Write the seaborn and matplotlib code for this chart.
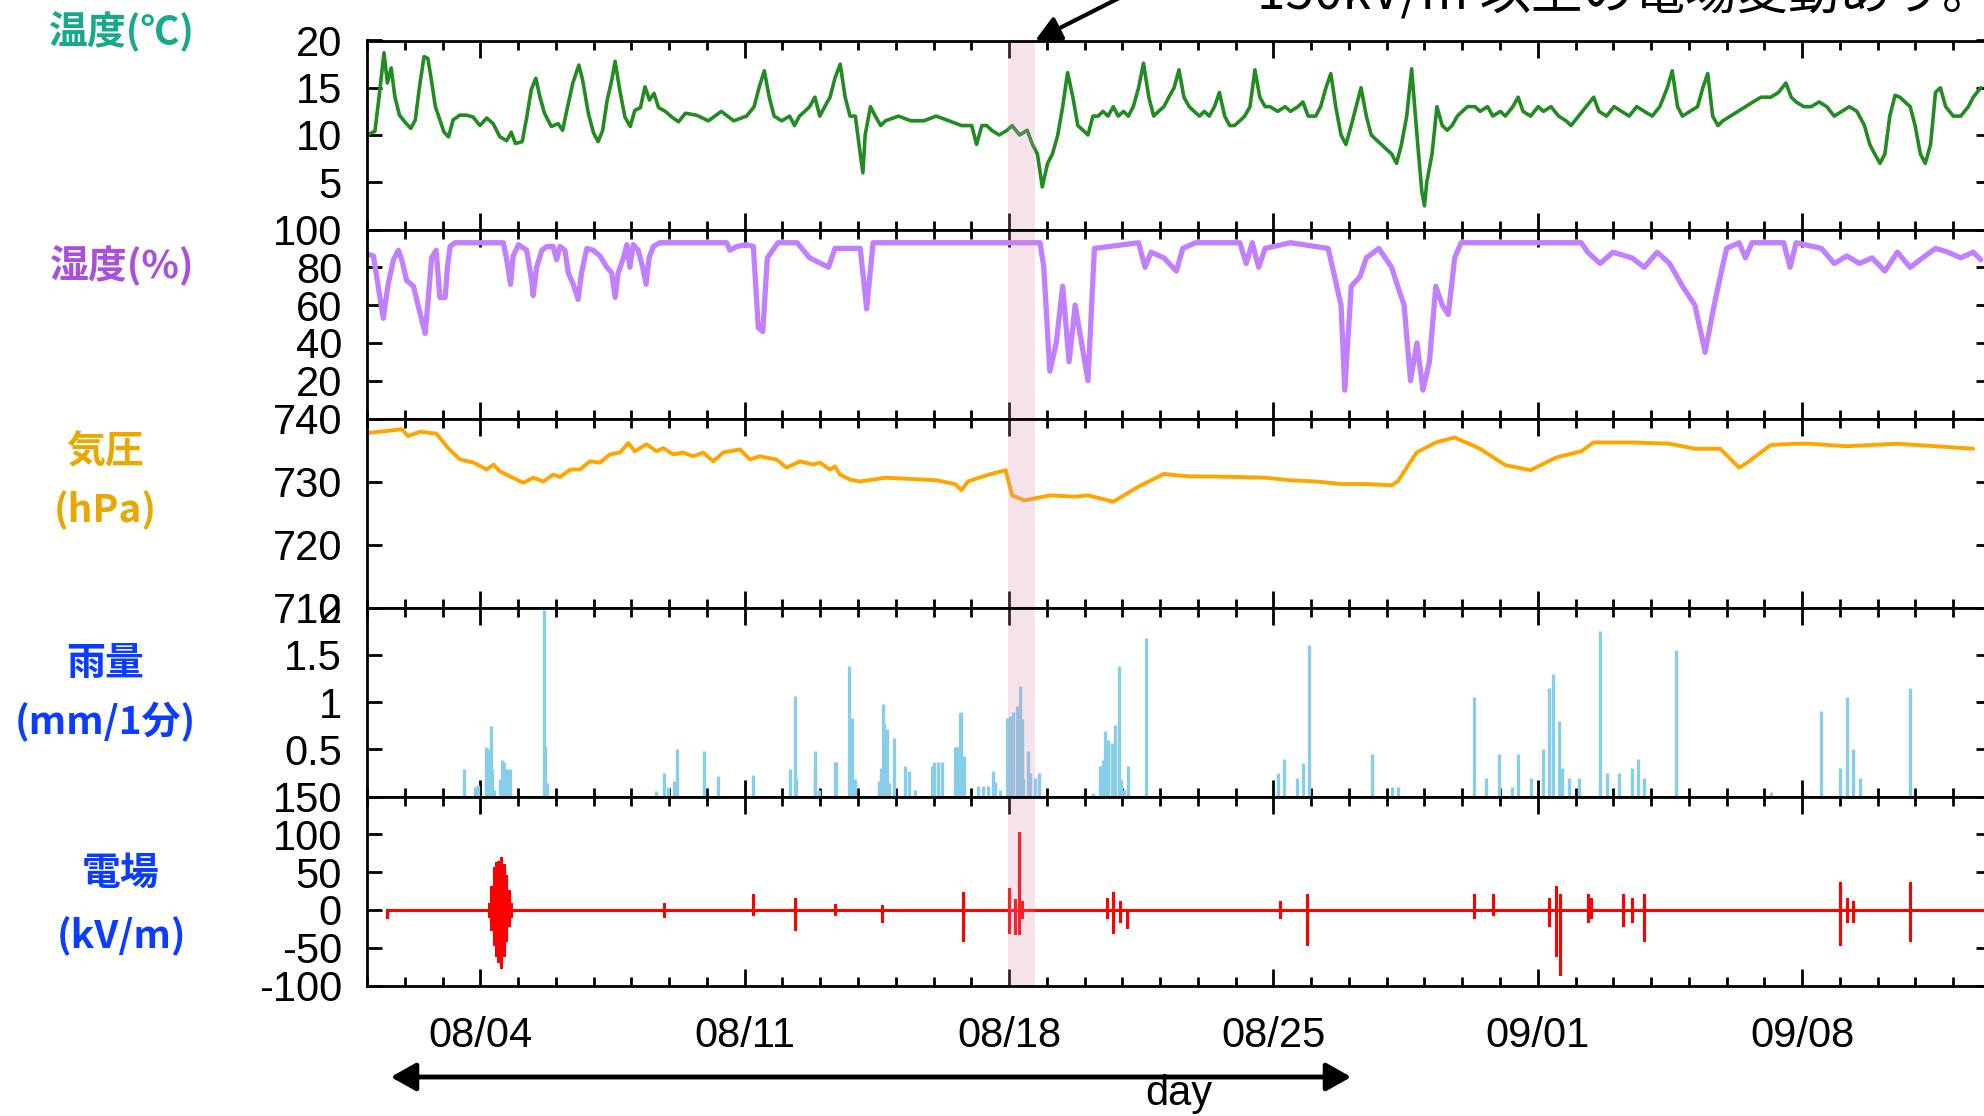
import numpy as np
import pandas as pd
import matplotlib
matplotlib.use("Agg")
import matplotlib.pyplot as plt
import matplotlib.dates as mdates
from matplotlib.ticker import FixedLocator
from matplotlib.patches import FancyArrowPatch
import seaborn as sns

# ---------------- data (days counted from 08/01 00:00) ----------------
START = pd.Timestamp("2019-08-01 00:00")
x_span_days = 43.0

tick_days = [3, 10, 17, 24, 31, 38]
tick_labels = ["08/04", "08/11", "08/18", "08/25", "09/01", "09/08"]

band_start, band_end = 16.97, 17.69

temp_days = [0.00, 0.21, 0.31, 0.45, 0.54, 0.64, 0.74, 0.86, 1.04, 1.16, 1.28, 1.39, 1.51, 1.61,
             1.69, 1.81, 1.93, 2.04, 2.16, 2.28, 2.46, 2.63, 2.81, 2.99, 3.17, 3.34, 3.52, 3.70,
             3.82, 3.93, 4.11, 4.23, 4.35, 4.47, 4.58, 4.70, 4.88, 5.06, 5.18, 5.29, 5.45, 5.61,
             5.71, 5.86, 6.00, 6.12, 6.24, 6.36, 6.48, 6.57, 6.69, 6.83, 6.97, 7.09, 7.24, 7.36,
             7.48, 7.60, 7.72, 7.90, 8.07, 8.25, 8.43, 8.72, 9.04, 9.38, 9.71, 10.05, 10.25,
             10.38, 10.52, 10.65, 10.78, 10.98, 11.19, 11.32, 11.45, 11.59, 11.72, 11.86, 11.99,
             12.12, 12.26, 12.39, 12.53, 12.66, 12.79, 12.93, 13.06, 13.13, 13.19, 13.33, 13.46,
             13.60, 13.73, 14.07, 14.40, 14.74, 15.07, 15.41, 15.74, 16.01, 16.14, 16.28, 16.41,
             16.54, 16.74, 16.95, 17.08, 17.28, 17.48, 17.62, 17.75, 17.88, 18.02, 18.15, 18.29,
             18.42, 18.55, 18.69, 18.82, 18.96, 19.09, 19.22, 19.36, 19.49, 19.62, 19.76, 19.89,
             20.03, 20.16, 20.29, 20.43, 20.56, 20.70, 20.83, 20.96, 21.10, 21.23, 21.37, 21.50,
             21.63, 21.77, 21.90, 22.04, 22.17, 22.30, 22.44, 22.57, 22.71, 22.84, 22.97, 23.11,
             23.24, 23.38, 23.51, 23.64, 23.78, 23.91, 24.11, 24.31, 24.45, 24.65, 24.78, 24.92,
             25.12, 25.25, 25.39, 25.52, 25.65, 25.79, 25.92, 26.06, 26.19, 26.32, 26.46, 26.59,
             26.72, 26.86, 26.99, 27.13, 27.26, 27.39, 27.53, 27.66, 27.80, 27.93, 28.00, 28.06,
             28.20, 28.33, 28.47, 28.60, 28.73, 28.87, 29.00, 29.14, 29.34, 29.47, 29.67, 29.81,
             30.01, 30.14, 30.34, 30.48, 30.61, 30.81, 31.01, 31.15, 31.35, 31.55, 31.75, 31.88,
             32.08, 32.28, 32.48, 32.62, 32.82, 33.02, 33.22, 33.42, 33.62, 33.82, 34.03, 34.23,
             34.43, 34.56, 34.70, 34.83, 35.03, 35.23, 35.37, 35.50, 35.63, 35.77, 35.90, 36.10,
             36.30, 36.50, 36.70, 36.91, 37.17, 37.37, 37.57, 37.71, 37.84, 38.04, 38.24, 38.45,
             38.65, 38.85, 39.05, 39.25, 39.45, 39.65, 39.79, 39.92, 40.06, 40.19, 40.32, 40.46,
             40.59, 40.72, 40.86, 40.99, 41.13, 41.26, 41.40, 41.53, 41.66, 41.80, 42.00, 42.20,
             42.40, 42.53, 42.73]
temp_vals = [10.0, 10.4, 13.7, 18.7, 15.5, 17.1, 14.0, 12.1, 11.2, 10.7, 11.6, 15.1, 18.3, 18.1,
             16.2, 13.0, 11.6, 10.3, 9.8, 11.6, 12.1, 12.1, 11.9, 11.0, 11.8, 11.2, 9.8, 9.4,
             10.3, 9.1, 9.3, 11.9, 14.8, 16.0, 14.0, 12.3, 10.9, 11.2, 10.5, 12.6, 15.5, 17.4,
             15.8, 12.3, 10.2, 9.3, 10.5, 13.7, 15.8, 17.8, 14.8, 11.9, 10.9, 12.6, 12.9, 15.1,
             13.7, 14.4, 12.9, 12.5, 11.9, 11.4, 12.3, 12.1, 11.5, 12.5, 11.5, 12.0, 13.0,
             15.0, 16.8, 14.0, 12.0, 11.5, 12.0, 11.0, 12.0, 12.5, 13.0, 14.0, 12.0,
             13.0, 14.0, 16.0, 17.5, 14.0, 12.0, 12.0, 8.0, 6.0, 10.0, 13.0, 12.0,
             11.0, 11.5, 12.0, 11.5, 11.5, 12.0, 11.5, 11.0, 11.0, 9.0, 11.0, 11.0,
             10.5, 10.0, 10.5, 11.0, 10.0, 10.5, 9.0, 8.0, 4.5, 7.0, 8.0, 10.0,
             13.0, 16.6, 14.0, 11.0, 10.5, 10.0, 12.0, 12.0, 12.5, 12.0, 13.0, 12.0,
             12.5, 12.0, 13.0, 15.0, 17.6, 14.0, 12.0, 12.5, 13.0, 14.0, 15.0, 16.9,
             14.0, 13.0, 12.5, 12.0, 12.5, 12.0, 13.0, 14.5, 12.0, 11.0, 11.0, 11.5,
             12.0, 13.0, 16.9, 14.0, 13.0, 13.0, 12.5, 13.0, 12.5, 13.0, 13.5, 12.0,
             12.0, 13.0, 15.0, 16.5, 13.0, 10.0, 9.0, 11.0, 13.0, 15.0, 12.0, 10.0,
             9.5, 9.0, 8.5, 8.0, 7.0, 9.0, 12.0, 17.0, 10.0, 4.0, 2.5, 5.0,
             8.0, 13.0, 11.0, 10.5, 11.0, 12.0, 12.5, 13.0, 13.0, 12.5, 13.0, 12.0,
             12.5, 12.0, 13.0, 14.0, 12.5, 12.0, 13.0, 12.5, 13.0, 12.0, 11.5, 11.0,
             12.0, 13.0, 14.0, 12.5, 12.0, 13.0, 12.5, 12.0, 13.0, 12.5, 12.0, 13.0,
             15.0, 16.8, 13.0, 12.0, 12.5, 13.0, 15.0, 16.5, 12.0, 11.0, 11.5, 12.0,
             12.5, 13.0, 13.5, 14.0, 14.0, 14.5, 15.5, 14.0, 13.5, 13.0, 13.0, 13.5,
             13.0, 12.0, 12.5, 13.0, 12.5, 11.0, 9.0, 8.0, 7.0, 8.0, 12.0, 14.2,
             14.0, 13.5, 13.0, 11.0, 8.0, 7.0, 9.0, 14.5, 15.0, 13.0, 12.0, 12.0,
             13.0, 14.0, 15.0]

hum_days = [0.00, 0.17, 0.43, 0.56, 0.70, 0.83, 0.92, 1.05, 1.23, 1.40, 1.54, 1.62, 1.71, 1.83,
            1.93, 2.07, 2.13, 2.20, 2.33, 3.61, 3.70, 3.80, 3.87, 4.01, 4.23, 4.36, 4.40, 4.49,
            4.63, 4.76, 4.93, 5.02, 5.11, 5.24, 5.33, 5.46, 5.59, 5.68, 5.82, 5.99, 6.17, 6.35,
            6.48, 6.57, 6.65, 6.79, 6.88, 6.96, 7.05, 7.18, 7.30, 7.39, 7.47, 7.58, 7.76, 9.52,
            9.61, 9.79, 10.05, 10.23, 10.36, 10.48, 10.60, 10.88, 11.39, 11.72, 12.22, 12.39,
            13.06, 13.23, 13.40, 17.82, 17.92, 18.08, 18.25, 18.42, 18.59, 18.75, 18.92, 19.09,
            19.26, 20.43, 20.60, 20.76, 21.10, 21.43, 21.60, 21.94, 23.11, 23.28, 23.44, 23.61,
            23.78, 24.45, 25.45, 25.62, 25.79, 25.89, 26.06, 26.29, 26.46, 26.79, 27.13, 27.29,
            27.46, 27.63, 27.80, 27.96, 28.13, 28.30, 28.47, 28.63, 28.80, 28.97, 32.15, 32.32,
            32.65, 32.99, 33.49, 33.82, 34.16, 34.49, 34.83, 35.16, 35.43, 35.67, 35.83, 36.00,
            36.33, 36.50, 36.67, 37.51, 37.68, 37.84, 38.51, 38.85, 39.18, 39.52, 39.85, 40.19,
            40.52, 40.86, 41.19, 41.53, 41.86, 42.20, 42.53, 42.73]
hum_vals = [87, 86, 53, 71, 84, 89, 84, 73, 70, 56, 45, 63, 85, 89,
            64, 64, 80, 91, 93, 93, 84, 71, 86, 92, 89, 73, 65, 80,
            89, 91, 91, 84, 91, 89, 77, 71, 63, 77, 90, 89, 86, 80,
            77, 64, 77, 85, 92, 80, 92, 89, 80, 71, 85, 91, 93, 93,
            89, 91, 92, 91, 48, 46, 85, 93, 93, 85, 80, 90,
            90, 58, 93, 93, 80, 25, 40, 70, 30, 60, 40, 20,
            90, 93, 80, 88, 85, 78, 90, 93, 93, 82, 93, 80,
            90, 93, 90, 75, 60, 15, 70, 75, 85, 90, 80, 70,
            60, 20, 40, 15, 30, 70, 60, 55, 85, 93, 93, 88,
            82, 88, 85, 80, 88, 82, 70, 60, 35, 60, 75, 90,
            93, 85, 93, 93, 80, 93, 90, 82, 86, 82, 85, 78,
            88, 80, 85, 90, 88, 85, 88, 84]

pres_days = [0.00, 0.48, 0.92, 1.09, 1.40, 1.84, 2.15, 2.46, 2.82, 3.17,
             3.35, 3.52, 3.79, 4.14, 4.40, 4.67, 4.93, 5.11, 5.38, 5.64,
             5.90, 6.17, 6.43, 6.70, 6.92, 7.09, 7.40, 7.67, 7.84, 8.11,
             8.37, 8.64, 8.90, 9.17, 9.43, 9.87, 10.14, 10.40, 10.84, 11.11,
             11.46, 11.81, 11.99, 12.26, 12.39, 12.52, 12.79, 13.05, 13.73, 14.40,
             15.07, 15.57, 15.74, 15.91, 16.41, 16.91, 17.08, 17.41, 18.08, 18.75,
             19.09, 19.76, 20.43, 21.10, 21.77, 22.44, 23.78, 24.45, 25.12, 25.79,
             26.46, 27.13, 27.29, 27.79, 28.30, 28.80, 29.47, 30.14, 30.81, 31.48,
             32.15, 32.48, 33.49, 34.49, 35.16, 35.83, 36.33, 36.50, 37.17, 37.84,
             38.18, 39.18, 40.52, 41.53, 42.53]
pres_vals = [737.7, 738.0, 738.3, 737.2, 737.9, 737.6, 735.3, 733.5, 733.0, 731.9,
             732.7, 731.6, 730.8, 729.8, 730.6, 730.0, 731.1, 730.7, 731.9, 731.9,
             733.2, 733.0, 734.3, 734.6, 736.1, 734.8, 735.9, 734.8, 735.3, 734.3,
             734.6, 734.0, 734.6, 733.2, 734.6, 735.1, 733.5, 734.0, 733.5, 732.2,
             733.2, 732.7, 733.0, 731.9, 732.4, 731.1, 730.3, 730.0, 730.6, 730.4,
             730.2, 729.6, 728.6, 730.0, 731.0, 731.8, 727.8, 727.0, 727.8, 727.6,
             727.8, 726.8, 729.2, 731.2, 730.8, 730.8, 730.6, 730.2, 730.0, 729.6,
             729.6, 729.4, 730.0, 734.6, 736.2, 737.0, 735.2, 732.6, 731.8, 733.8,
             734.8, 736.2, 736.2, 736.0, 735.2, 735.2, 732.2, 732.8, 735.8, 736.0,
             736.0, 735.6, 736.0, 735.6, 735.2]

rain_days = [2.57, 2.85, 2.95, 3.16, 3.22, 3.28, 3.30, 3.36, 3.51, 3.58, 3.64, 3.71, 3.79, 4.68,
             4.72, 4.77, 7.64, 7.87, 7.97, 8.14, 8.21, 8.91, 9.29, 10.22, 11.21, 11.32, 11.36,
             11.85, 11.87, 11.97, 12.38, 12.43, 12.76, 12.85, 12.91, 13.55, 13.60, 13.66, 13.70,
             13.78, 13.83, 13.95, 14.25, 14.36, 14.51, 14.96, 15.01, 15.12, 15.22, 15.57, 15.62,
             15.66, 15.70, 15.74, 15.81, 16.19, 16.32, 16.45, 16.57, 16.63, 16.76, 16.95, 17.02,
             17.11, 17.20, 17.29, 17.33, 17.38, 17.51, 17.55, 17.69, 17.80, 19.23, 19.41, 19.49,
             19.54, 19.63, 19.72, 19.80, 19.92, 19.96, 20.05, 20.16, 20.63, 24.11, 24.28, 24.62,
             24.78, 24.95, 26.62, 27.13, 27.29, 29.30, 29.64, 29.97, 30.31, 30.48, 30.81, 31.15,
             31.31, 31.41, 31.55, 31.65, 31.82, 32.08, 32.65, 32.82, 33.15, 33.49, 33.66, 33.82,
             34.66, 37.17, 38.51, 39.01, 39.18, 39.35, 39.52, 40.86]
rain_vals = [0.29, 0.10, 0.12, 0.52, 0.50, 0.75, 0.29, 0.07, 0.18, 0.39, 0.36, 0.29, 0.29, 1.97,
             0.53, 0.14, 0.06, 0.25, 0.10, 0.16, 0.50, 0.48, 0.22, 0.23, 0.29, 1.06, 0.18,
             0.27, 0.48, 0.07, 0.36, 0.37, 1.38, 0.83, 0.18, 0.16, 0.30, 0.98, 0.78,
             0.71, 0.14, 0.62, 0.32, 0.27, 0.07, 0.32, 0.36, 0.37, 0.37, 0.52, 0.52,
             0.52, 0.88, 0.89, 0.43, 0.11, 0.11, 0.11, 0.27, 0.15, 0.07, 0.83, 0.85,
             0.89, 0.96, 1.17, 0.82, 0.18, 0.48, 0.25, 0.20, 0.25, 0.04, 0.32, 0.39,
             0.69, 0.60, 0.57, 0.76, 1.38, 0.18, 0.07, 0.32, 1.68, 0.25, 0.40, 0.20,
             0.35, 1.60, 0.45, 0.10, 0.10, 1.05, 0.20, 0.45, 0.10, 0.45, 0.20, 0.50,
             1.15, 1.30, 0.80, 0.30, 0.20, 0.20, 1.75, 0.25, 0.25, 0.30, 0.40, 0.20,
             1.55, 0.05, 0.90, 0.30, 1.05, 0.50, 0.20, 1.15]

efield_start, efield_end = 0.52, 43.0
burst_days = [0.53, 3.22, 3.28, 3.35, 3.42, 3.48, 3.55, 3.62, 3.68, 3.75, 3.82,
              7.87, 10.21, 11.32, 12.39, 13.63, 15.79, 17.01, 17.15, 17.27, 17.33,
              19.59, 19.74, 19.93, 20.11, 24.18, 24.88, 29.30, 29.81, 31.31, 31.48, 31.58,
              32.32, 32.42, 33.25, 33.49, 33.82, 39.01, 39.18, 39.35, 40.86]
burst_max = [0, 8, 30, 55, 62, 64, 68, 60, 45, 25, 8,
             8, 20, 15, 6, 5, 22, 27, 13, 102, 10,
             15, 22, 10, 0, 10, 20, 20, 20, 15, 30, 20,
             20, 15, 20, 15, 20, 35, 15, 10, 35]
burst_min = [-9, -8, -25, -45, -60, -68, -75, -60, -40, -20, -8,
             -8, -5, -25, -6, -15, -40, -29, -31, -31, -10,
             -10, -29, -15, -22, -10, -45, -10, -5, -20, -60, -85,
             -15, -10, -20, -15, -40, -45, -15, -15, -40]

# ---------------- style ----------------
sns.set_theme(style="ticks")
plt.rcParams["font.family"] = ["Liberation Sans", "DejaVu Sans"]
plt.rcParams["axes.linewidth"] = 2.0
plt.rcParams["axes.edgecolor"] = "black"

W, H = 1984, 1116
fig = plt.figure(figsize=(W / 100, H / 100), dpi=100)


def to_dt(days):
    return START + pd.to_timedelta(np.asarray(days, dtype=float), unit="D")


left_px, right_px = 367, 1991
top_px, bot_px = 40.5, 985.5
n = 5
ph = (bot_px - top_px) / n
axes = []
for i in range(n):
    y0 = H - (top_px + (i + 1) * ph)
    ax = fig.add_axes([left_px / W, y0 / H, (right_px - left_px) / W, ph / H],
                      sharex=axes[0] if axes else None)
    ax.set_facecolor("white")
    axes.append(ax)

ax_t, ax_h, ax_p, ax_r, ax_e = axes

sns.lineplot(x=to_dt(temp_days), y=temp_vals, ax=ax_t, color="#228b22", linewidth=2.6,
             estimator=None)
sns.lineplot(x=to_dt(hum_days), y=hum_vals, ax=ax_h, color="#c080ff", linewidth=3.8,
             estimator=None)
sns.lineplot(x=to_dt(pres_days), y=pres_vals, ax=ax_p, color="#ffa500", linewidth=2.8,
             estimator=None)
ax_r.vlines(to_dt(rain_days), 0, rain_vals, color="#87ceeb", linewidth=2.4)

# electric field trace: baseline with vertical excursions at each burst
e_x, e_y = [efield_start], [0.0]
for d, mx, mn in zip(burst_days, burst_max, burst_min):
    e_x += [d, d, d, d]
    e_y += [0.0, mx, mn, 0.0]
e_x.append(efield_end)
e_y.append(0.0)
sns.lineplot(x=to_dt(e_x), y=e_y, ax=ax_e, color="#ff0000", linewidth=2.2,
             estimator=None, sort=False)

ylims = [(0, 20), (0, 100), (710, 740), (0, 2), (-100, 150)]
yticks = [[0, 5, 10, 15, 20], [0, 20, 40, 60, 80, 100], [710, 720, 730, 740],
          [0, 0.5, 1, 1.5, 2], [-100, -50, 0, 50, 100, 150]]
ylabels = [["", "5", "10", "15", "20"], ["", "20", "40", "60", "80", "100"],
           ["710", "720", "730", "740"], ["", "0.5", "1", "1.5", "2"],
           ["-100", "-50", "0", "50", "100", "150"]]

for i, ax in enumerate(axes):
    ax.set_ylim(*ylims[i])
    ax.set_yticks(yticks[i])
    ax.set_yticklabels(ylabels[i])
    ax.set_xlim(to_dt([0])[0], to_dt([x_span_days])[0])
    ax.set_xlabel("")
    ax.set_ylabel("")
    ax.axvspan(to_dt([band_start])[0], to_dt([band_end])[0], color="#d98fb0", alpha=0.25,
               lw=0, zorder=5)
    for s in ax.spines.values():
        s.set_linewidth(2.0)
        s.set_color("black")
        s.set_zorder(6)
    ax.tick_params(axis="y", which="major", direction="in", left=True, right=True,
                   length=11, width=2, labelsize=30, pad=18, colors="black")
    ax.grid(False)

ax_e.xaxis.set_major_locator(FixedLocator(mdates.date2num(to_dt(tick_days))))
ax_e.xaxis.set_minor_locator(mdates.DayLocator())
ax_e.set_xticklabels(tick_labels)
for i, ax in enumerate(axes):
    ax.tick_params(axis="x", which="major", direction="in", top=True, bottom=True,
                   length=12, width=2, labelsize=30, pad=22,
                   labelbottom=(i == n - 1), colors="black")
    ax.tick_params(axis="x", which="minor", direction="in", top=True, bottom=True,
                   length=6.5, width=2, colors="black")

# ---------------- left side labels ----------------
cjk = ["Noto Sans CJK JP", "DejaVu Sans"]
lab_teal, lab_purple, lab_gold, lab_blue = "#17a98a", "#a94fdc", "#e9a700", "#0a3dff"
side_labels = [
    ("温度(℃)", 122, 32, lab_teal),
    ("湿度(%)", 122, 266, lab_purple),
    ("気圧", 105, 452, lab_gold),
    ("(hPa)", 105, 510, lab_gold),
    ("雨量", 105, 663, lab_blue),
    ("(mm/1分)", 105, 722, lab_blue),
    ("電場", 121, 873, lab_blue),
    ("(kV/m)", 121, 936, lab_blue),
]
for txt, xp, yp, col in side_labels:
    fig.text(xp / W, 1 - yp / H, txt, ha="center", va="center", color=col,
             family=cjk, weight="bold", size=28)

# ---------------- annotations ----------------
fig.text(1257 / W, 1 - 8 / H, "150kV/m 以上の電場変動あり。", ha="left", va="baseline",
         family=cjk, size=37, color="black")
ax_t.annotate("", xy=(to_dt([band_end])[0], 1.0), xycoords=("data", "axes fraction"),
              xytext=(1135 / W, 1 + 10 / H), textcoords="figure fraction",
              arrowprops=dict(arrowstyle="-|>,head_length=0.9,head_width=0.45", lw=3,
                              color="black", shrinkA=0, shrinkB=0, mutation_scale=17),
              annotation_clip=False, zorder=10)

arr = FancyArrowPatch(posA=(388 / W, 1 - 1077 / H), posB=(1354 / W, 1 - 1077 / H),
                      transform=fig.transFigure,
                      arrowstyle="<|-|>,head_length=0.8,head_width=0.45",
                      mutation_scale=19, lw=3.5, color="black")
fig.add_artist(arr)
fig.text(1179 / W, 1 - 1094 / H, "day", ha="center", va="center", size=30, color="black")

fig.savefig("out.png", dpi=100)
